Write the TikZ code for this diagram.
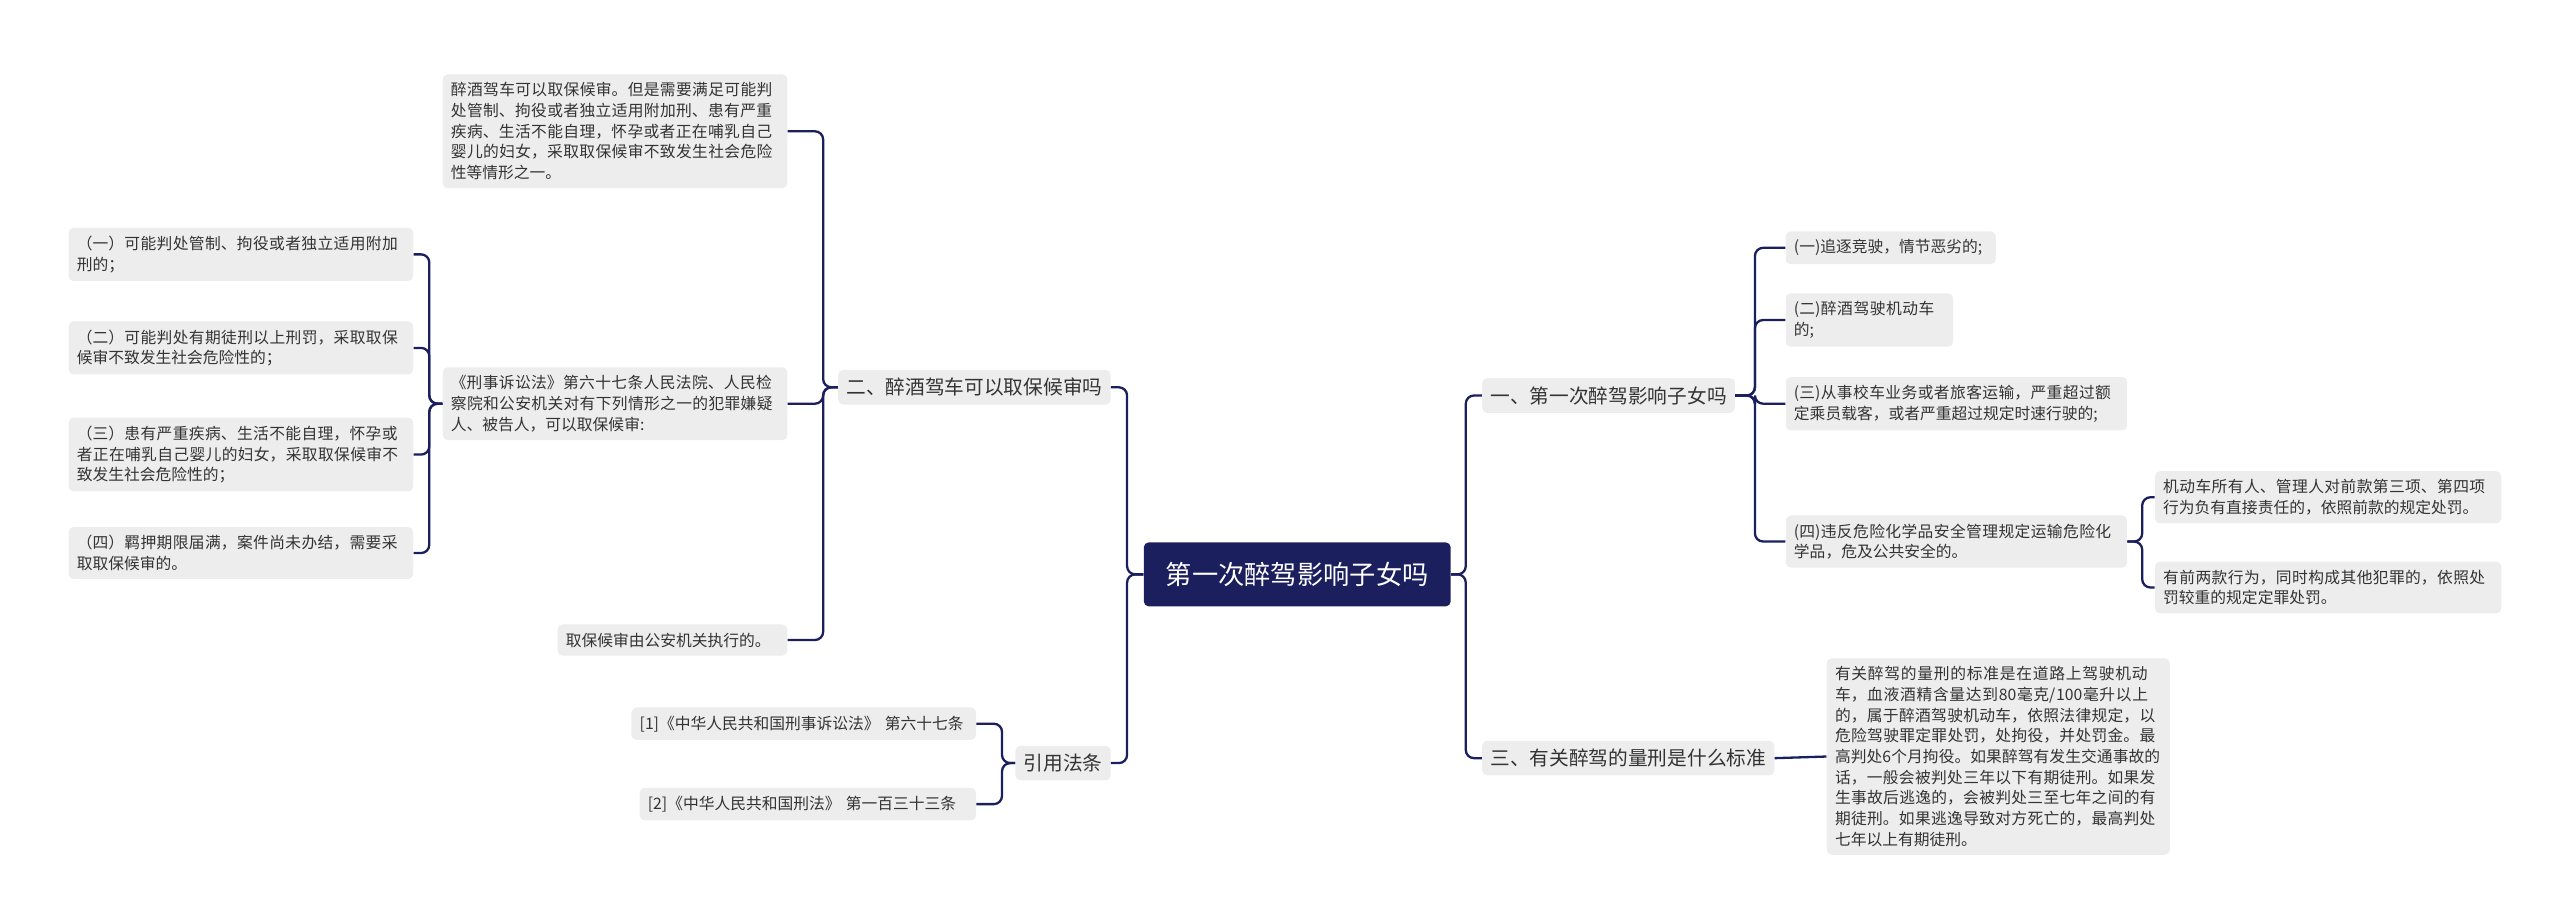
\documentclass[tikz,border=0pt]{standalone}
\usepackage{fontspec}
\setmainfont{Noto Sans CJK SC}
\XeTeXlinebreaklocale "zh"
\XeTeXlinebreakskip=0pt plus 1pt
\begin{document}
\begin{tikzpicture}[x=1pt,y=-1pt,
  leaf/.style={fill=black!7,rounded corners=3pt,text=black!80,font=\fontsize{9.6}{12.6}\selectfont,align=left,inner xsep=5pt,inner ysep=5pt,text width=200pt},
  mid/.style={fill=black!7,rounded corners=3pt,text=black!80,font=\fontsize{12}{15}\selectfont,inner xsep=5pt,inner ysep=5pt},
  link/.style={draw=navy,line width=1.4pt,rounded corners=5pt}]
\definecolor{navy}{HTML}{1B1F5E}
\useasboundingbox (0,0) rectangle (1560,563);
\node[fill=navy,text=white,rounded corners=3pt,font=\fontsize{16}{19}\selectfont,minimum width=187pt,minimum height=39pt] (c) at (790.5,350) {第一次醉驾影响子女吗};
% right
\node[mid,anchor=west] (r1) at (903,241) {一、第一次醉驾影响子女吗};
\node[mid,anchor=west] (r3) at (903,462) {三、有关醉驾的量刑是什么标准};
\node[leaf,anchor=west,text width=118pt] (a1) at (1088,151) {(一)追逐竞驶，情节恶劣的;};
\node[leaf,anchor=west,text width=92pt] (a2) at (1088,195) {(二)醉酒驾驶机动车的;};
\node[leaf,anchor=west,text width=198pt] (a3) at (1088,246) {(三)从事校车业务或者旅客运输，严重超过额定乘员载客，或者严重超过规定时速行驶的;};
\node[leaf,anchor=west,text width=198pt] (a4) at (1088,330) {(四)违反危险化学品安全管理规定运输危险化学品，危及公共安全的。};
\node[leaf,anchor=west,text width=201pt] (b1) at (1313,303) {机动车所有人、管理人对前款第三项、第四项行为负有直接责任的，依照前款的规定处罚。};
\node[leaf,anchor=west,text width=201pt] (b2) at (1313,358) {有前两款行为，同时构成其他犯罪的，依照处罚较重的规定定罪处罚。};
\node[leaf,anchor=west,text width=199pt] (d1) at (1113,461) {有关醉驾的量刑的标准是在道路上驾驶机动车，血液酒精含量达到80毫克/100毫升以上的，属于醉酒驾驶机动车，依照法律规定，以危险驾驶罪定罪处罚，处拘役，并处罚金。最高判处6个月拘役。如果醉驾有发生交通事故的话，一般会被判处三年以下有期徒刑。如果发生事故后逃逸的，会被判处三至七年之间的有期徒刑。如果逃逸导致对方死亡的，最高判处七年以上有期徒刑。};
% left
\node[mid,anchor=east] (l2) at (677,236) {二、醉酒驾车可以取保候审吗};
\node[mid,anchor=east] (l4) at (677,465) {引用法条};
\node[leaf,anchor=east] (e1) at (480,80) {醉酒驾车可以取保候审。但是需要满足可能判处管制、拘役或者独立适用附加刑、患有严重疾病、生活不能自理，怀孕或者正在哺乳自己婴儿的妇女，采取取保候审不致发生社会危险性等情形之一。};
\node[leaf,anchor=east] (e2) at (480,246) {《刑事诉讼法》第六十七条人民法院、人民检察院和公安机关对有下列情形之一的犯罪嫌疑人、被告人，可以取保候审:};
\node[leaf,anchor=east,text width=130pt] (e3) at (480,390) {取保候审由公安机关执行的。};
\node[leaf,anchor=east] (f1) at (252,155) {（一）可能判处管制、拘役或者独立适用附加刑的；};
\node[leaf,anchor=east] (f2) at (252,212) {（二）可能判处有期徒刑以上刑罚，采取取保候审不致发生社会危险性的；};
\node[leaf,anchor=east] (f3) at (252,277) {（三）患有严重疾病、生活不能自理，怀孕或者正在哺乳自己婴儿的妇女，采取取保候审不致发生社会危险性的；};
\node[leaf,anchor=east] (f4) at (252,337) {（四）羁押期限届满，案件尚未办结，需要采取取保候审的。};
\node[leaf,anchor=east] (g1) at (595,441) {[1]《中华人民共和国刑事诉讼法》 第六十七条};
\node[leaf,anchor=east,text width=195pt] (g2) at (595,490) {[2]《中华人民共和国刑法》 第一百三十三条};
% links
\foreach \n in {r1,r3} \draw[link] (c.east) -- ++(9,0) |- (\n.west);
\foreach \n in {l2,l4} \draw[link] (c.west) -- ++(-10,0) |- (\n.east);
\foreach \n in {a1,a2,a3,a4} \draw[link] (r1.east) -- ++(12,0) |- (\n.west);
\foreach \n in {b1,b2} \draw[link] (a4.east) -- ++(9,0) |- (\n.west);
\draw[link] (r3.east) -- (d1.west);
\foreach \n in {e1,e2,e3} \draw[link] (l2.west) -- ++(-9,0) |- (\n.east);
\foreach \n in {f1,f2,f3,f4} \draw[link] (e2.west) -- ++(-8,0) |- (\n.east);
\foreach \n in {g1,g2} \draw[link] (l4.west) -- ++(-8,0) |- (\n.east);
\end{tikzpicture}
\end{document}
